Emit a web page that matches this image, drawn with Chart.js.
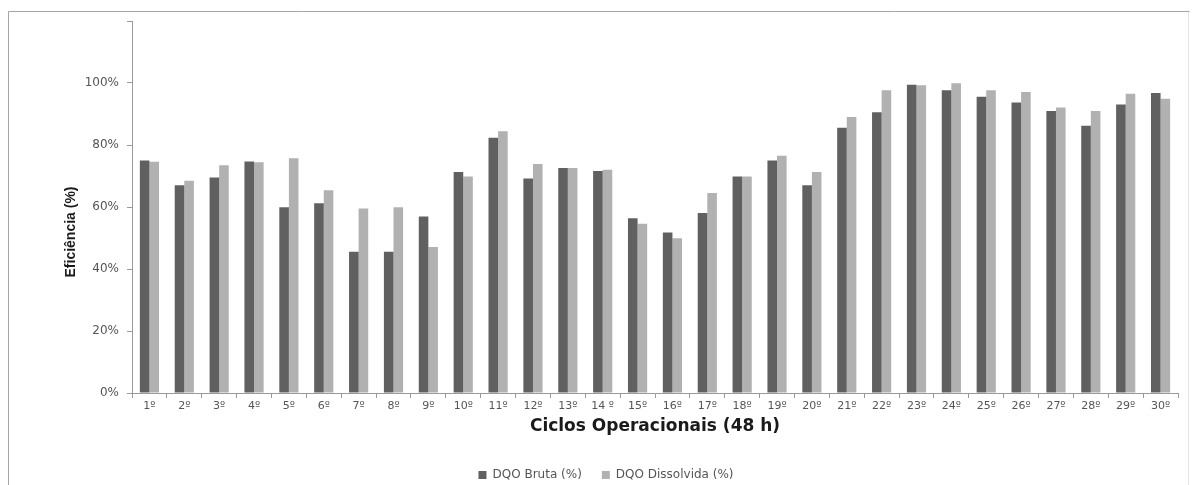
<!DOCTYPE html>
<html lang="pt">
<head>
<meta charset="utf-8">
<title>Eficiência de remoção de DQO por ciclo operacional</title>
<script src="https://cdn.jsdelivr.net/npm/chart.js@4/dist/chart.umd.min.js"></script>
<style>
  html, body { margin: 0; padding: 0; background: #ffffff; }
  #wrap { width: 1192px; height: 485px; }
</style>
</head>
<body>
<div id="wrap"><canvas id="chart" width="1192" height="485"></canvas></div>
<script>
// Ciclos operacionais (48 h)
const cycles = [
  '1º', '2º', '3º', '4º', '5º', '6º', '7º', '8º', '9º', '10º',
  '11º', '12º', '13º', '14 º', '15º', '16º', '17º', '18º', '19º', '20º',
  '21º', '22º', '23º', '24º', '25º', '26º', '27º', '28º', '29º', '30º'
];

// Eficiência de remoção (%)
const dqoBruta = [
  75.0, 67.0, 69.5, 74.7, 59.9, 61.2, 45.6, 45.6, 56.9, 71.3,
  82.3, 69.2, 72.6, 71.6, 56.4, 51.8, 58.1, 69.8, 75.0, 67.0,
  85.6, 90.6, 99.4, 97.7, 95.6, 93.7, 91.0, 86.2, 93.1, 96.8
];
const dqoDissolvida = [
  74.6, 68.5, 73.5, 74.4, 75.7, 65.4, 59.5, 59.9, 47.1, 69.8,
  84.4, 73.9, 72.6, 72.0, 54.6, 49.9, 64.5, 69.8, 76.5, 71.3,
  89.0, 97.7, 99.3, 99.9, 97.7, 97.1, 92.1, 91.0, 96.5, 94.9
];

const seriesNames = ['DQO Bruta (%)', 'DQO Dissolvida (%)'];
const yTickValues = [0, 20, 40, 60, 80, 100];
const yAxisTitle = 'Eficiência (%)';
const xAxisTitle = 'Ciclos Operacionais (48 h)';

// White page with the thin frame around the figure
const framePlugin = {
  id: 'frame',
  beforeDraw(chart) {
    const ctx = chart.ctx;
    ctx.save();
    ctx.fillStyle = '#ffffff';
    ctx.fillRect(0, 0, chart.width, chart.height);
    ctx.lineWidth = 1;
    ctx.strokeStyle = '#a6a6a6';
    ctx.beginPath();
    ctx.moveTo(8.5, chart.height);
    ctx.lineTo(8.5, 11.5);
    ctx.lineTo(1189.5, 11.5);
    ctx.stroke();
    ctx.strokeStyle = '#e4e4e4';
    ctx.beginPath();
    ctx.moveTo(1188.5, 12);
    ctx.lineTo(1188.5, chart.height);
    ctx.stroke();
    ctx.restore();
  }
};

// Vertical axis title, placed a little below the middle of the axis
const yTitlePlugin = {
  id: 'yTitle',
  afterDraw(chart) {
    const ctx = chart.ctx;
    ctx.save();
    ctx.translate(71, 232);
    ctx.rotate(-Math.PI / 2);
    ctx.font = 'bold 14px "Liberation Sans", Arial, sans-serif';
    ctx.fillStyle = '#1a1a1a';
    ctx.textAlign = 'center';
    ctx.textBaseline = 'middle';
    ctx.fillText(yAxisTitle, 0, 0);
    ctx.restore();
  }
};

const tickFont = { family: '"DejaVu Sans", Verdana, sans-serif', size: 11 };
const valueFont = { family: '"DejaVu Sans", Verdana, sans-serif', size: 12 };

new Chart(document.getElementById('chart'), {
  type: 'bar',
  data: {
    labels: cycles,
    datasets: [
      {
        label: seriesNames[0],
        data: dqoBruta,
        backgroundColor: '#606060',
        borderWidth: 0,
        categoryPercentage: 0.55,
        barPercentage: 1.0
      },
      {
        label: seriesNames[1],
        data: dqoDissolvida,
        backgroundColor: '#b1b1b1',
        borderWidth: 0,
        categoryPercentage: 0.55,
        barPercentage: 1.0
      }
    ]
  },
  options: {
    responsive: false,
    animation: false,
    layout: { padding: { left: 34, right: 14, top: 21, bottom: 0 } },
    plugins: {
      tooltip: { enabled: false },
      legend: {
        position: 'bottom',
        maxHeight: 36,
        labels: {
          boxWidth: 8,
          boxHeight: 8,
          padding: 20,
          color: '#555555',
          font: valueFont
        }
      }
    },
    scales: {
      x: {
        grid: {
          display: true,
          offset: true,
          drawOnChartArea: false,
          drawTicks: true,
          tickLength: 5,
          color: '#9a9a9a'
        },
        border: { display: true, color: '#9a9a9a' },
        ticks: {
          color: '#555555',
          font: tickFont,
          padding: 2,
          maxRotation: 0,
          autoSkip: false
        },
        title: {
          display: true,
          text: xAxisTitle,
          color: '#1a1a1a',
          font: { family: '"DejaVu Sans", Verdana, sans-serif', size: 17, weight: 'bold' },
          padding: { top: 4, bottom: 12 }
        },
        afterFit(scale) { scale.height = 56; }
      },
      y: {
        min: 0,
        max: 120,
        afterBuildTicks(scale) {
          scale.ticks = yTickValues.concat([120]).map(v => ({ value: v }));
        },
        grid: {
          display: true,
          drawOnChartArea: false,
          drawTicks: true,
          tickLength: 5,
          color: '#9a9a9a'
        },
        border: { display: true, color: '#9a9a9a' },
        ticks: {
          color: '#555555',
          font: valueFont,
          padding: 8,
          callback: (v) => (yTickValues.includes(v) ? v + '%' : '')
        },
        afterFit(scale) { scale.width = 98; }
      }
    }
  },
  plugins: [framePlugin, yTitlePlugin]
});
</script>
</body>
</html>
